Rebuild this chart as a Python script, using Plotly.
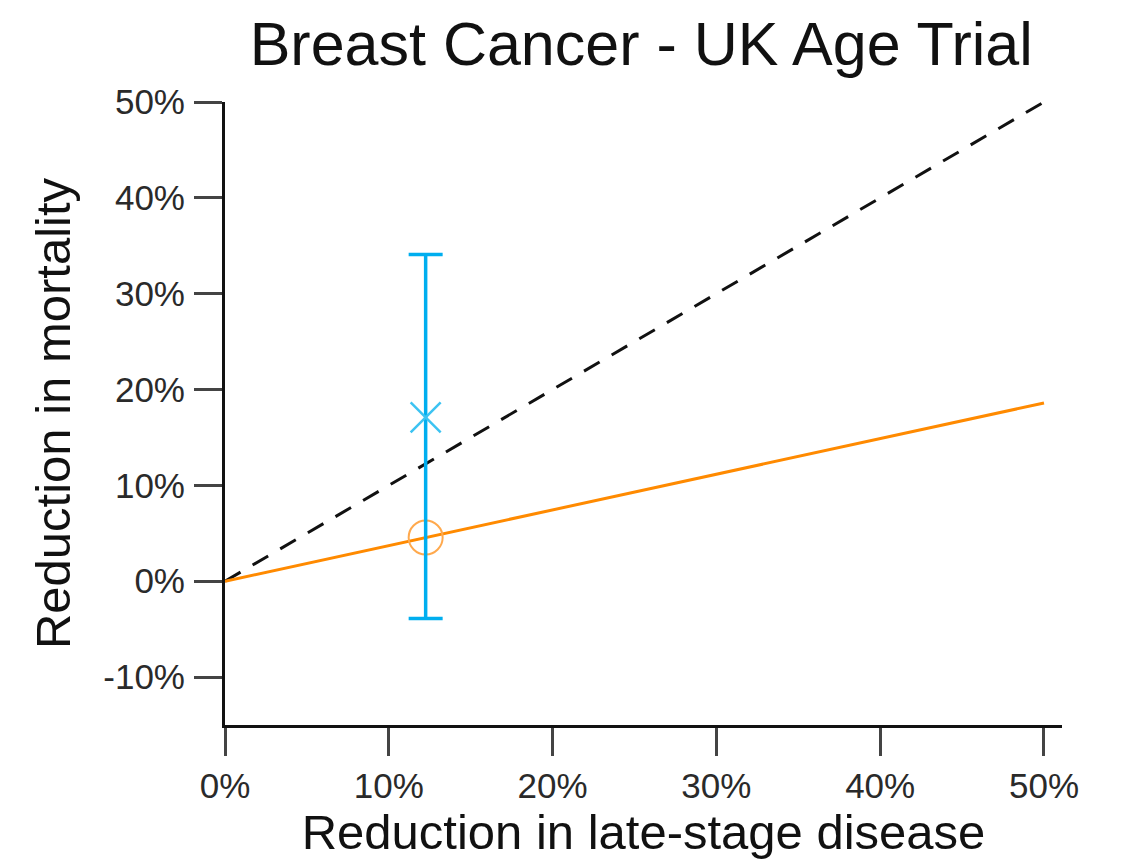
import plotly.graph_objects as go

# Screening trial result: reduction in late-stage disease vs reduction in mortality
trial_x = [12.25]
trial_mortality = [17.1]
trial_ci_low = [-3.9]
trial_ci_high = [34.1]

# Reference lines
parity_x = [0, 50]
parity_y = [0, 50]
expected_x = [0, 50]
expected_y = [0, 18.6]
expected_point_x = [12.25]
expected_point_y = [4.56]

x_ticks = [0, 10, 20, 30, 40, 50]
x_tick_labels = ["0%", "10%", "20%", "30%", "40%", "50%"]
y_ticks = [-10, 0, 10, 20, 30, 40, 50]
y_tick_labels = ["-10%", "0%", "10%", "20%", "30%", "40%", "50%"]

FONT = "Liberation Sans"

fig = go.Figure()

fig.add_trace(go.Scatter(
    x=parity_x, y=parity_y, mode="lines",
    line=dict(color="#111111", width=3, dash="18px,14px"),
    showlegend=False, hoverinfo="skip",
))
fig.add_trace(go.Scatter(
    x=expected_x, y=expected_y, mode="lines",
    line=dict(color="#ff8a00", width=3),
    showlegend=False, hoverinfo="skip",
))
fig.add_trace(go.Scatter(
    x=expected_point_x, y=expected_point_y, mode="markers",
    marker=dict(symbol="circle-open", size=34, color="#ffa94d", line=dict(width=2, color="#ffa94d")),
    showlegend=False, hoverinfo="skip",
))
fig.add_trace(go.Scatter(
    x=trial_x, y=trial_mortality, mode="markers",
    marker=dict(symbol="x-thin", size=30, color="#3cc3f2", line=dict(width=2.5, color="#3cc3f2")),
    error_y=dict(
        type="data", symmetric=False,
        array=[h - m for h, m in zip(trial_ci_high, trial_mortality)],
        arrayminus=[m - l for l, m in zip(trial_ci_low, trial_mortality)],
        color="#00aeef", thickness=3.5, width=17,
    ),
    showlegend=False, hoverinfo="skip",
))

axis_common = dict(
    showgrid=False, zeroline=False,
    showline=True, linecolor="#111111", linewidth=3,
    ticks="outside", ticklen=28, tickwidth=3, tickcolor="#444444",
    tickfont=dict(family=FONT, size=35, color="#2a2a2a"),
)

fig.update_layout(
    width=1123, height=863,
    paper_bgcolor="white", plot_bgcolor="white",
    margin=dict(l=225, r=61, t=102, b=138),
    title=dict(
        text="Breast Cancer - UK Age Trial",
        font=dict(family=FONT, size=61, color="#111111"),
        x=0.571, xanchor="center", y=0.95, yanchor="middle",
    ),
    xaxis=dict(
        range=[0, 51.1], tickmode="array", tickvals=x_ticks, ticktext=x_tick_labels,
        title=dict(text="Reduction in late-stage disease", font=dict(family=FONT, size=49, color="#111111"), standoff=6),
        ticklabelstandoff=0,
        **axis_common,
    ),
    yaxis=dict(
        range=[-15, 50], tickmode="array", tickvals=y_ticks, ticktext=y_tick_labels,
        title=dict(text="Reduction in mortality", font=dict(family=FONT, size=49, color="#111111"), standoff=18),
        ticklabelstandoff=2,
        **axis_common,
    ),
    hovermode=False,
)

fig.write_html("out.html")
